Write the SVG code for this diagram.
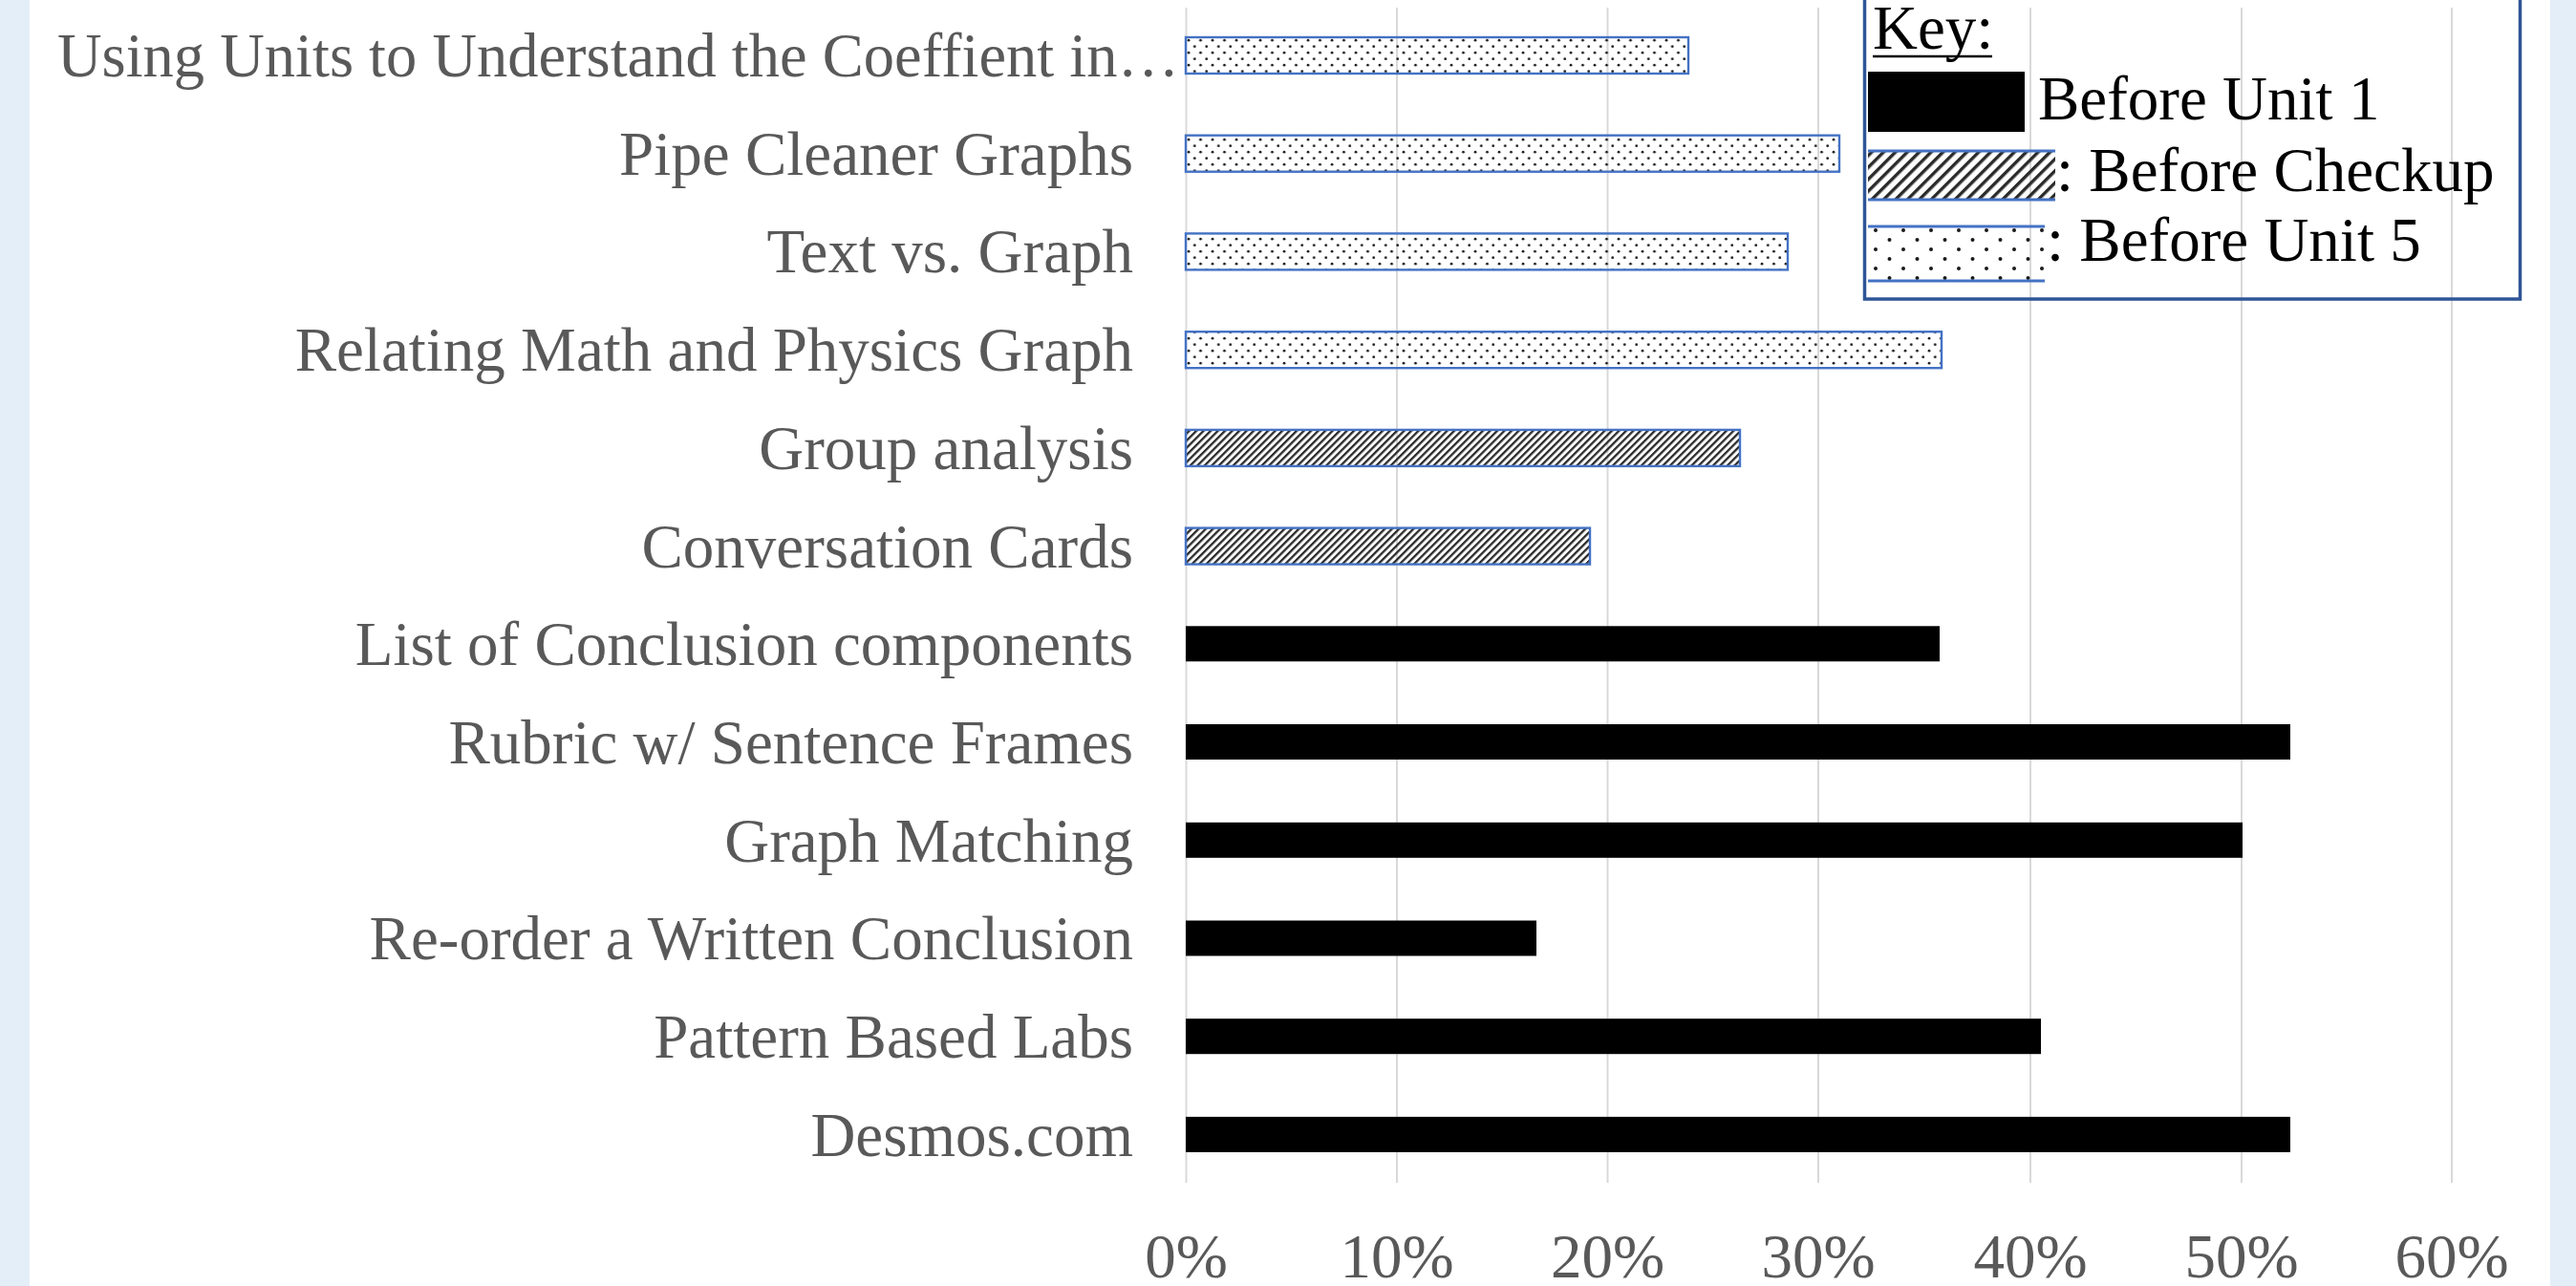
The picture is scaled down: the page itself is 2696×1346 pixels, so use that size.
<svg xmlns="http://www.w3.org/2000/svg" width="2696" height="1346" viewBox="0 0 2696 1346">
  <defs>
    <!-- fine dot fill used by the "Before Unit 5" bars -->
    <pattern id="dots" patternUnits="userSpaceOnUse" x="1241" y="0" width="12.5" height="13">
      <circle cx="3" cy="3.2" r="1.35" fill="#1a1a1a"/>
      <circle cx="9.25" cy="9.7" r="1.35" fill="#1a1a1a"/>
    </pattern>
    <!-- coarser dot fill for the key swatch -->
    <pattern id="dotsKey" patternUnits="userSpaceOnUse" x="1956" y="236" width="29" height="20">
      <circle cx="7" cy="5" r="2" fill="#1a1a1a"/>
      <circle cx="21.5" cy="15" r="2" fill="#1a1a1a"/>
    </pattern>
    <!-- diagonal hatch used by the "Before Checkup" bars -->
    <pattern id="hatch" patternUnits="userSpaceOnUse" width="5.3" height="10" patternTransform="rotate(45)">
      <rect x="0" y="0" width="2.3" height="10" fill="#2a2a2a"/>
    </pattern>
    <pattern id="hatchKey" patternUnits="userSpaceOnUse" width="8.8" height="10" patternTransform="rotate(45)">
      <rect x="0" y="0" width="3.4" height="10" fill="#2a2a2a"/>
    </pattern>
    <style>
      .label { font-family: "Liberation Serif", "Times New Roman", serif; font-size: 65px; fill: #595959; text-anchor: end; }
      .tick { font-family: "Liberation Serif", "Times New Roman", serif; font-size: 65px; fill: #595959; text-anchor: middle; }
      .key { font-family: "Liberation Serif", "Times New Roman", serif; font-size: 65px; fill: #000000; }
      .grid { stroke: #d9d9d9; stroke-width: 2; }
      .solid { fill: #000000; }
      .hatched { fill: url(#hatch); stroke: #4472c4; stroke-width: 2.4; }
      .dotted { fill: url(#dots); stroke: #4472c4; stroke-width: 2.4; }
      .edge { stroke: #4472c4; stroke-width: 3; }
    </style>
  </defs>

  <!-- page background with pale side margins -->
  <rect x="0" y="0" width="2696" height="1346" fill="#ffffff"/>
  <rect x="0" y="0" width="31" height="1346" fill="#e3eef9"/>
  <rect x="2669" y="0" width="27" height="1346" fill="#e3eef9"/>

  <!-- vertical gridlines and percentage axis -->
  <g id="axis">
    <line class="grid" x1="1241.5" y1="8" x2="1241.5" y2="1238"/>
    <line class="grid" x1="1462" y1="8" x2="1462" y2="1238"/>
    <line class="grid" x1="1682.5" y1="8" x2="1682.5" y2="1238"/>
    <line class="grid" x1="1903" y1="8" x2="1903" y2="1238"/>
    <line class="grid" x1="2125" y1="8" x2="2125" y2="1238"/>
    <line class="grid" x1="2346" y1="8" x2="2346" y2="1238"/>
    <line class="grid" x1="2566" y1="8" x2="2566" y2="1238"/>
    <text class="tick" x="1241.5" y="1337">0%</text>
    <text class="tick" x="1462" y="1337">10%</text>
    <text class="tick" x="1682.5" y="1337">20%</text>
    <text class="tick" x="1903" y="1337">30%</text>
    <text class="tick" x="2125" y="1337">40%</text>
    <text class="tick" x="2346" y="1337">50%</text>
    <text class="tick" x="2566" y="1337">60%</text>
  </g>

  <!-- one group per strategy: label + bar -->
  <g id="using-units">
    <text class="label" x="1234" y="80" textLength="1174" lengthAdjust="spacingAndGlyphs">Using Units to Understand the Coeffient in…</text>
    <rect class="dotted" x="1241" y="39" width="526" height="38"/>
  </g>
  <g id="pipe-cleaner-graphs">
    <text class="label" x="1186" y="183">Pipe Cleaner Graphs</text>
    <rect class="dotted" x="1241" y="141.7" width="684" height="38"/>
  </g>
  <g id="text-vs-graph">
    <text class="label" x="1186" y="285">Text vs. Graph</text>
    <rect class="dotted" x="1241" y="244.4" width="630" height="38"/>
  </g>
  <g id="relating-math-physics">
    <text class="label" x="1186" y="388">Relating Math and Physics Graph</text>
    <rect class="dotted" x="1241" y="347.2" width="791" height="38"/>
  </g>
  <g id="group-analysis">
    <text class="label" x="1186" y="491">Group analysis</text>
    <rect class="hatched" x="1241" y="449.9" width="580" height="38"/>
  </g>
  <g id="conversation-cards">
    <text class="label" x="1186" y="594">Conversation Cards</text>
    <rect class="hatched" x="1241" y="552.6" width="423" height="38"/>
  </g>
  <g id="list-of-conclusion">
    <text class="label" x="1186" y="696">List of Conclusion components</text>
    <rect class="solid" x="1241" y="655.3" width="789" height="37"/>
  </g>
  <g id="rubric">
    <text class="label" x="1186" y="799">Rubric w/ Sentence Frames</text>
    <rect class="solid" x="1241" y="758" width="1156" height="37"/>
  </g>
  <g id="graph-matching">
    <text class="label" x="1186" y="902">Graph Matching</text>
    <rect class="solid" x="1241" y="860.8" width="1106" height="37"/>
  </g>
  <g id="re-order">
    <text class="label" x="1186" y="1004">Re-order a Written Conclusion</text>
    <rect class="solid" x="1241" y="963.5" width="367" height="37"/>
  </g>
  <g id="pattern-based-labs">
    <text class="label" x="1186" y="1107">Pattern Based Labs</text>
    <rect class="solid" x="1241" y="1066.2" width="895" height="37"/>
  </g>
  <g id="desmos">
    <text class="label" x="1186" y="1210">Desmos.com</text>
    <rect class="solid" x="1241" y="1168.9" width="1156" height="37"/>
  </g>

  <!-- key box -->
  <g id="legend">
    <rect x="1951.5" y="-10" width="686" height="323" fill="none" stroke="#2f5597" stroke-width="3.5"/>
    <text class="key" x="1960" y="51">Key:</text>
    <line x1="1960" y1="59" x2="2085" y2="59" stroke="#000" stroke-width="2.5"/>
    <rect x="1955" y="75" width="164" height="63" fill="#000"/>
    <text class="key" x="2133" y="125">Before Unit 1</text>
    <rect x="1955" y="158" width="196" height="51" fill="url(#hatchKey)"/>
    <line class="edge" x1="1955" y1="158" x2="2151" y2="158"/>
    <line class="edge" x1="1955" y1="209" x2="2151" y2="209"/>
    <text class="key" x="2152" y="200">: Before Checkup</text>
    <rect x="1955" y="237" width="185" height="57" fill="url(#dotsKey)"/>
    <line class="edge" x1="1955" y1="237" x2="2140" y2="237"/>
    <line class="edge" x1="1955" y1="294" x2="2140" y2="294"/>
    <text class="key" x="2142" y="273">: Before Unit 5</text>
  </g>
</svg>
